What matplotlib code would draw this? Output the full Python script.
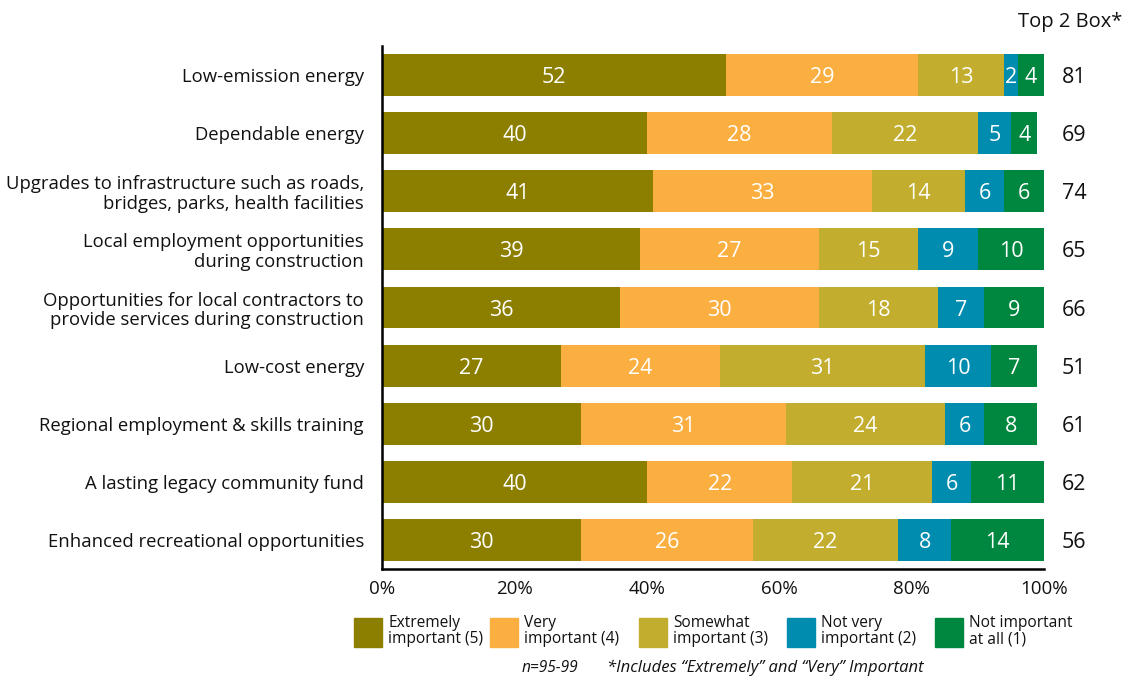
import matplotlib.pyplot as plt
import numpy as np
from matplotlib.patches import Rectangle

plt.rcParams['font.family'] = ['Open Sans', 'DejaVu Sans']

# Survey items (top to bottom)
items = [
    "Low-emission energy",
    "Dependable energy",
    "Upgrades to infrastructure such as roads,\nbridges, parks, health facilities",
    "Local employment opportunities\nduring construction",
    "Opportunities for local contractors to\nprovide services during construction",
    "Low-cost energy",
    "Regional employment & skills training",
    "A lasting legacy community fund",
    "Enhanced recreational opportunities",
]

extremely = [52, 40, 41, 39, 36, 27, 30, 40, 30]
very = [29, 28, 33, 27, 30, 24, 31, 22, 26]
somewhat = [13, 22, 14, 15, 18, 31, 24, 21, 22]
not_very = [2, 5, 6, 9, 7, 10, 6, 6, 8]
not_at_all = [4, 4, 6, 10, 9, 7, 8, 11, 14]
top2 = [81, 69, 74, 65, 66, 51, 61, 62, 56]

series = [extremely, very, somewhat, not_very, not_at_all]
series_names = ["Extremely\nimportant (5)", "Very\nimportant (4)", "Somewhat\nimportant (3)",
                "Not very\nimportant (2)", "Not important\nat all (1)"]
colors = ["#8C7F00", "#FAAF40", "#C2AD2E", "#008CAF", "#00873F"]

xticks = [0, 20, 40, 60, 80, 100]

fig = plt.figure(figsize=(11.33, 6.77), dpi=100)
ax = fig.add_axes([0.3372, 0.1595, 0.5843, 0.7725])

y = np.arange(len(items))
left = np.zeros(len(items))
for vals, col in zip(series, colors):
    vals = np.array(vals, dtype=float)
    ax.barh(y, vals, left=left, height=0.72, color=col, edgecolor='none')
    for yi, l, v in zip(y, left, vals):
        ax.text(l + v / 2, yi, f"{int(v)}", ha='center', va='center_baseline',
                color='white', fontsize=15.5)
    left += vals

# top-2-box totals in the right margin
for yi, t in zip(y, top2):
    ax.text(104.5, yi, str(t), ha='center', va='center_baseline', fontsize=15.5,
            color='#111111')
ax.text(0.961, 1.046, "Top 2 Box*", transform=ax.transAxes, ha='left', va='center',
        fontsize=14.5, color='#111111')

ax.set_xlim(0, 100)
ax.set_ylim(len(items) - 0.5, -0.5)
ax.set_yticks(y)
ax.set_yticklabels(items, fontsize=13.3, color='#111111', linespacing=1.1)
ax.set_xticks(xticks)
ax.set_xticklabels([f"{v}%" for v in xticks], fontsize=13.5, color='#111111')
ax.tick_params(axis='both', length=0)
ax.tick_params(axis='y', pad=13)
ax.tick_params(axis='x', pad=8)
for s in ['top', 'right']:
    ax.spines[s].set_visible(False)
ax.spines['left'].set_linewidth(1.8)
ax.spines['bottom'].set_linewidth(1.8)

# legend drawn by hand, two-line labels beside square swatches
leg_x = [354, 490, 639, 787, 935]
W, H = 1133, 677
for lx, name, col in zip(leg_x, series_names, colors):
    fig.add_artist(Rectangle((lx / W, 1 - 647 / H), 28 / W, 29 / H,
                             transform=fig.transFigure, color=col))
    fig.text((lx + 34) / W, 1 - 631 / H, name, ha='left', va='center',
             fontsize=11.2, color='#111111', linespacing=1.02)

fig.text(522 / W, 1 - 668 / H, "n=95-99", ha='left', va='center',
         fontsize=11.2, style='italic', color='#111111')
fig.text(607 / W, 1 - 668 / H, "*Includes \u201cExtremely\u201d and \u201cVery\u201d Important",
         ha='left', va='center', fontsize=12, style='italic', color='#111111')

fig.savefig("out.png", dpi=100)
